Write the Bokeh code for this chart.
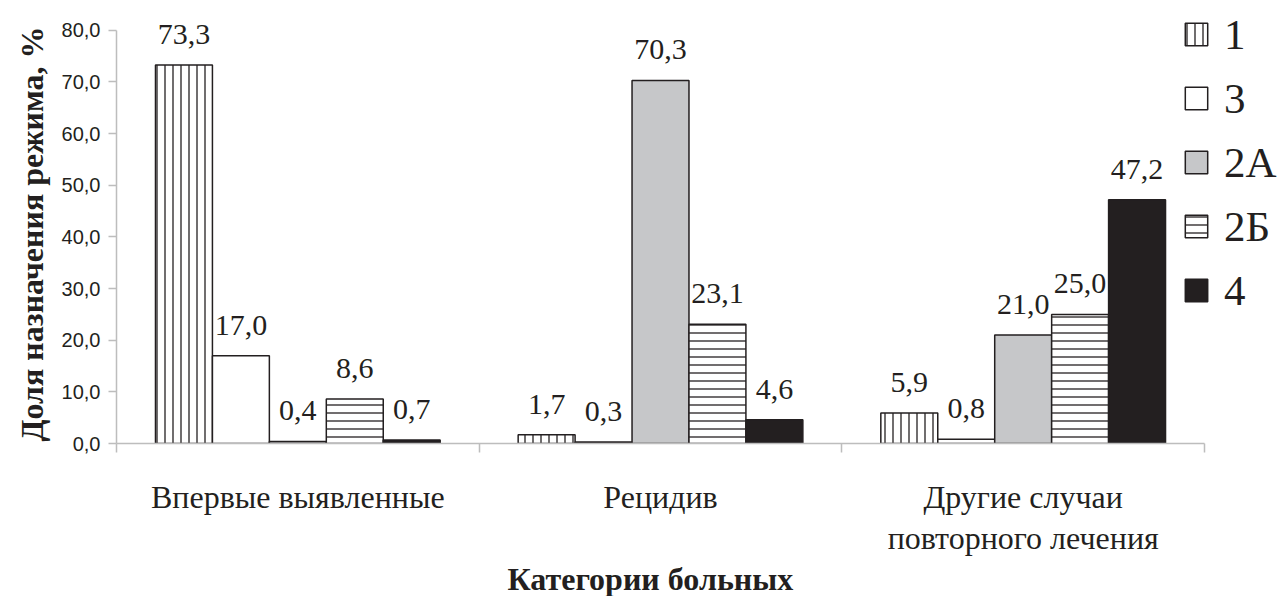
from bokeh.plotting import figure
from bokeh.models import (Range1d, FixedTicker, CustomJSTickFormatter, Legend, LegendItem,
                          ColumnDataSource, LabelSet, Title)
from bokeh.embed import file_html
from bokeh.resources import INLINE

# ---- data ----
categories = ["Впервые выявленные", "Рецидив", "Другие случаи\nповторного лечения"]
series_names = ["1", "3", "2А", "2Б", "4"]
s1 = [73.3, 1.7, 5.9]
s3 = [17.0, 0.3, 0.8]
s2a = [0.4, 70.3, 21.0]
s2b = [8.6, 23.1, 25.0]
s4 = [0.7, 4.6, 47.2]
y_ticks = [0, 10, 20, 30, 40, 50, 60, 70, 80]
x_title = "Категории больных"
y_title = "Доля назначения режима, %"

series_values = [s1, s3, s2a, s2b, s4]

# styles
fills = ["white", "white", "#c6c7c9", "white", "#231f20"]
hatches = ["|", " ", " ", "-", " "]
TXT = "#231f20"
AX = "#bdbdbd"

n = len(categories)
px_per_unit = 362.67          # horizontal scale of one category slot
py_per_unit = 5.1625          # vertical scale of one percent
x_end = 3.204                 # room on the right for the legend
y_end = 85.0                  # room on top for labels / legend

bar_w = 0.157
offsets = [-2 * bar_w, -bar_w, 0.0, bar_w, 2 * bar_w]
centers = [i + 0.5 for i in range(n)]

p = figure(frame_width=int(round(x_end * px_per_unit)),
           frame_height=int(round(y_end * py_per_unit)),
           x_range=Range1d(0, x_end), y_range=Range1d(0, y_end),
           output_backend="svg", toolbar_location=None,
           min_border_left=116, min_border_right=0, min_border_top=4, min_border_bottom=150)
p.outline_line_color = None
p.xgrid.grid_line_color = None
p.ygrid.grid_line_color = None
p.background_fill_color = "white"
p.border_fill_color = "white"

items = []
for name, vals, off, fc, h in zip(series_names, series_values, offsets, fills, hatches):
    src = ColumnDataSource(dict(
        x=[c + off for c in centers],
        top=vals,
        lbl=[f"{v:.1f}".replace(".", ",") for v in vals],
    ))
    r = p.vbar(x="x", top="top", width=bar_w, bottom=0, source=src,
               fill_color=fc, line_color="#231f20", line_width=1.5,
               hatch_pattern=h, hatch_color="#231f20", hatch_weight=1.3, hatch_scale=8)
    items.append(LegendItem(label=name, renderers=[r]))
    p.add_layout(LabelSet(x="x", y="top", text="lbl", source=src,
                          text_font="Liberation Serif", text_font_size="30px",
                          text_color=TXT, text_align="center", text_baseline="alphabetic",
                          y_offset=21))

# y axis
ya = p.yaxis[0]
ya.bounds = (0, 80)
ya.ticker = FixedTicker(ticks=y_ticks, minor_ticks=[])
ya.formatter = CustomJSTickFormatter(code="return tick.toFixed(1).replace('.', ',');")
ya.axis_line_color = AX
ya.axis_line_width = 1.5
ya.major_tick_line_color = AX
ya.major_tick_line_width = 1.5
ya.major_tick_out = 8
ya.major_tick_in = 0
ya.minor_tick_line_color = None
ya.major_label_text_font = "Liberation Sans"
ya.major_label_text_font_size = "20px"
ya.major_label_text_color = TXT
ya.major_label_standoff = 8

# x axis: labels at category centres, ticks at category boundaries
xa = p.xaxis[0]
xa.bounds = (0, n)
xa.ticker = FixedTicker(ticks=centers, minor_ticks=list(range(n + 1)))
xa.major_label_overrides = {c: lab for c, lab in zip(centers, categories)}
xa.axis_line_color = AX
xa.axis_line_width = 1.5
xa.major_tick_out = 0
xa.major_tick_in = 0
xa.major_tick_line_color = None
xa.minor_tick_line_color = AX
xa.minor_tick_line_width = 1.5
xa.minor_tick_out = 9
xa.minor_tick_in = 0
xa.major_label_text_font = "Liberation Serif"
xa.major_label_text_font_size = "32px"
xa.major_label_text_color = TXT
xa.major_label_text_line_height = 1.15
xa.major_label_standoff = 26

# axis titles, centred on the axes' own extent (not on the wider frame)
p.add_layout(Title(text=x_title, align="left", offset=391, standoff=0,
                   text_font="Liberation Serif", text_font_style="bold",
                   text_font_size="32px", text_color=TXT), "below")
p.add_layout(Title(text=y_title, align="left", offset=2, standoff=18,
                   text_font="Liberation Serif", text_font_style="bold",
                   text_font_size="32px", text_color=TXT), "left")

legend = Legend(items=items, location=(1066, 127), orientation="vertical",
                glyph_width=28, glyph_height=28, label_height=52,
                spacing=12, padding=0, margin=0, label_standoff=14,
                label_text_font="Liberation Serif", label_text_font_size="43px",
                label_text_color=TXT, label_text_baseline="middle",
                border_line_color=None, background_fill_alpha=0)
p.add_layout(legend)

open("out.html", "w").write(file_html(p, INLINE))
